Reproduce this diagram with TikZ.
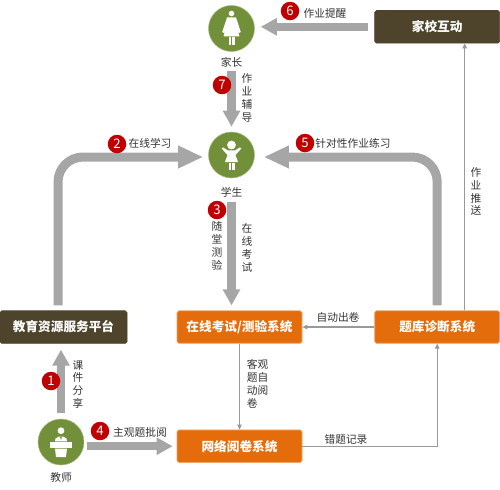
\documentclass[tikz,border=0pt]{standalone}
\usepackage{fontspec}
\setmainfont{Noto Sans CJK SC}
\usepackage{xcolor}
\usetikzlibrary{arrows.meta, positioning}
\definecolor{roleGreen}{HTML}{72903A}
\definecolor{sysOrange}{HTML}{E56C0A}
\definecolor{sysDark}{HTML}{4D442B}
\definecolor{flowGray}{HTML}{A6A6A6}
\definecolor{thinGray}{HTML}{999999}
\definecolor{badgeRed}{HTML}{C00000}
\definecolor{textGray}{HTML}{333333}
\tikzset{
  role/.style={circle, fill=roleGreen, draw=roleGreen!60, line width=0.3pt,
               minimum size=0.92cm, inner sep=0pt},
  orangebox/.style={rectangle, draw=sysOrange!60, fill=sysOrange, rounded corners=1pt,
                    minimum width=2.5cm, minimum height=0.65cm, inner sep=0pt,
                    align=center, text=white, font=\fontsize{7.2}{8}\selectfont\bfseries, line width=0.4pt},
  darkbox/.style={orangebox, draw=sysDark, fill=sysDark},
  tag/.style={inner sep=0pt, align=center, text=textGray, font=\fontsize{6.1}{7.37}\selectfont},
  badge/.style={circle, fill=badgeRed, text=white, minimum size=0.37cm, inner sep=0pt,
                font=\fontsize{7.5}{8}\selectfont},
  bigarrow/.style={-{Triangle[length=0.32cm, width=0.33cm]}, draw=flowGray, line width=0.17cm},
  widearrow/.style={-{Triangle[length=0.5cm, width=0.42cm]}, draw=flowGray, line width=0.18cm,
                    rounded corners=0.5cm},
  thinarrow/.style={-{Triangle[length=0.1cm, width=0.09cm]}, draw=thinGray, line width=0.6pt},
  icon/.style={fill=white, x=0.02cm, y=0.02cm},
}
\begin{document}
\begin{tikzpicture}[node distance=1.0cm and 1.0cm]
  \useasboundingbox (0,0) rectangle (10,-9.78);

  % Roles
  \node[role] (student) at (4.63,-3.10) {};
  \node[role, above=1.6cm of student] (parent) {};
  \node[role] (teacher) at (1.22,-8.84) {};
  \node[tag, below=0.11cm of parent] (parentname) {家长};
  \node[tag, below=0.17cm of student] (studentname) {学生};
  \node[tag, below=0.13cm of teacher] (teachername) {教师};

  % Systems
  \node[darkbox, minimum width=2.54cm] (platform) at (1.27,-6.54) {教育资源服务平台};
  \node[orangebox] (online) at (4.79,-6.54) {在线考试/测验系统};
  \node[orangebox, right=1.44cm of online] (diagnose) {题库诊断系统};
  \node[orangebox, below=1.72cm of online] (marking) {网络阅卷系统};
  \node[darkbox, above=5.34cm of diagnose] (home) {家校互动};

  % Thick flows
  \draw[bigarrow, shorten <=0.12cm, shorten >=0.12cm] (teacher.north) -- (teacher.north |- platform.south);
  \draw[widearrow, shorten <=0.1cm, shorten >=0.1cm] ([xshift=-0.11cm]platform.north) |- ([yshift=-0.04cm]student.west);
  \draw[bigarrow, shorten <=0.1cm, shorten >=0.1cm] (studentname.south) -- (studentname.south |- online.north);
  \draw[bigarrow, shorten <=0.06cm, shorten >=0.08cm] (marking.west -| teacher.east) -- (marking.west);
  \draw[widearrow, shorten <=0.1cm, shorten >=0.18cm] (diagnose.north) |- ([yshift=-0.04cm]student.east);
  \draw[bigarrow, shorten <=0.12cm, shorten >=0.12cm] (home.west) -- (home.west -| parent.east);
  \draw[bigarrow, shorten <=0.06cm, shorten >=0.1cm] (parentname.south) -- (parentname.south |- student.north);

  % Thin flows
  \draw[thinarrow] ([xshift=0.55cm]diagnose.north) -- ([xshift=0.55cm]home.south);
  \draw[thinarrow] (diagnose.west) -- (online.east);
  \draw[thinarrow] (online.south) -- (marking.north);
  \draw[thinarrow] (marking.east) -| (diagnose.south);

  % Flow labels
  \node[tag] (tagremind) at (6.50,-0.26) {作业提醒};
  \node[tag] (tagtutor) at (4.94,-1.96) {作\\业\\辅\\导};
  \node[tag] (tagpractice) at (7.06,-2.86) {针对性作业练习};
  \node[tag] (tagstudy) at (3.00,-2.86) {在线学习};
  \node[tag] (tagquiz) at (4.34,-4.92) {随\\堂\\测\\验};
  \node[tag] (tagexam) at (4.94,-4.96) {在\\线\\考\\试};
  \node[tag] (tagshare) at (1.56,-7.69) {课\\件\\分\\享};
  \node[tag] (tagreview) at (2.80,-8.64) {主观题批阅};
  \node[tag, align=left] (tagauto) at (5.15,-7.67) {客观\\题自\\动阅\\卷};
  \node[tag] (tagpaper) at (6.76,-6.34) {自动出卷};
  \node[tag] (tagwrong) at (6.92,-8.78) {错题记录};
  \node[tag] (tagpush) at (9.52,-3.83) {作\\业\\推\\送};

  % Badges
  \node[badge] (one) at (1.02,-7.62) {1};
  \node[badge] (two) at (2.34,-2.88) {2};
  \node[badge] (three) at (4.34,-4.20) {3};
  \node[badge] (four) at (2.00,-8.62) {4};
  \node[badge] (five) at (6.10,-2.86) {5};
  \node[badge] (six) at (5.80,-0.22) {6};
  \node[badge] (seven) at (4.44,-1.70) {7};

  % Icons
  \begin{scope}[shift={(parent)}, icon]
    \fill (0,15) circle (2.8);
    \fill (-4.5,11) -- (4.5,11) -- (9.3,-3.5) -- (7.5,-4.5) -- (5,3) -- (8,-8) -- (-8,-8) -- (-5,3)
          -- (-7.5,-4.5) -- (-9.3,-3.5) -- cycle;
    \fill (-3,-8.6) rectangle (-0.8,-17);
    \fill (0.8,-8.6) rectangle (3,-17);
  \end{scope}
  \begin{scope}[shift={(student)}, icon]
    \fill (0,10) circle (4.4);
    \fill (-9.8,6.5) -- (-8.5,7.6) -- (-3.5,4.6) -- (3.5,4.6) -- (8.5,7.6) -- (9.8,6.5) -- (4,0)
          -- (6.5,-7) -- (-6.5,-7) -- (-4,0) -- cycle;
    \fill (-3,-7.6) rectangle (-0.8,-15);
    \fill (0.8,-7.6) rectangle (3,-15);
  \end{scope}
  \begin{scope}[shift={(teacher)}, icon]
    \fill (0,11.3) circle (3.4);
    \fill (-6,0.6) -- (-5.5,3.5) -- (-2,5.5) -- (2,5.5) -- (5.5,3.5) -- (6,0.6) -- cycle;
    \fill[roleGreen] (-1,5.5) -- (1,5.5) -- (0,2) -- cycle;
    \fill (-11,-0.3) rectangle (11,-6);
    \fill (-6,-6.6) -- (6,-6.6) -- (5,-15) -- (-5,-15) -- cycle;
  \end{scope}
\end{tikzpicture}
\end{document}
